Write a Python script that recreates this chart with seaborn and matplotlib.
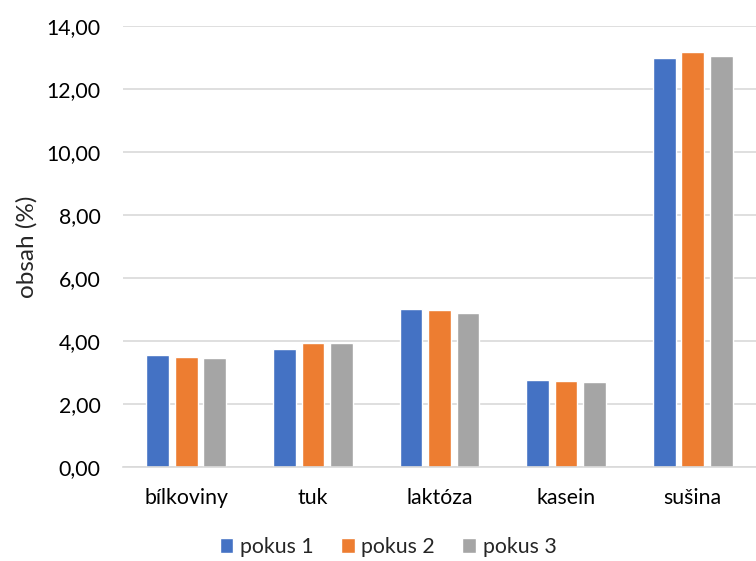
import matplotlib
matplotlib.use("Agg")
import matplotlib.pyplot as plt
import seaborn as sns
import pandas as pd
from matplotlib.ticker import FuncFormatter

categories = ["bílkoviny", "tuk", "laktóza", "kasein", "sušina"]
series = ["pokus 1", "pokus 2", "pokus 3"]
pokus1 = [3.57, 3.76, 5.01, 2.76, 12.97]
pokus2 = [3.49, 3.94, 4.97, 2.73, 13.17]
pokus3 = [3.45, 3.94, 4.90, 2.69, 13.06]
colors = ["#4472C4", "#ED7D31", "#A5A5A5"]

rows = []
for name, vals in zip(series, [pokus1, pokus2, pokus3]):
    for cat, v in zip(categories, vals):
        rows.append({"kategorie": cat, "pokus": name, "obsah": v})
df = pd.DataFrame(rows)

sns.set_theme(style="white")
plt.rcParams["font.family"] = ["Lato", "DejaVu Sans"]

fig = plt.figure(figsize=(7.56, 5.61), dpi=100)
ax = fig.add_axes([123 / 756, 1 - 467 / 561, 633 / 756, 441 / 561])

sns.barplot(data=df, x="kategorie", y="obsah", hue="pokus", order=categories,
            hue_order=series, palette=colors, width=0.675, gap=0.2,
            saturation=1, ax=ax, legend=True)

ax.set_ylim(0, 14)
ax.set_yticks(range(0, 15, 2))
ax.yaxis.set_major_formatter(FuncFormatter(lambda v, p: f"{v:.2f}".replace(".", ",")))
ax.grid(axis="y", color="#D9D9D9", linewidth=1.2)
ax.set_axisbelow(True)
for s in ["left", "right", "top"]:
    ax.spines[s].set_visible(False)
ax.spines["bottom"].set_color("#D9D9D9")
ax.spines["bottom"].set_linewidth(1.2)
ax.tick_params(axis="both", length=0, labelsize=15.3, colors="#000000")
ax.tick_params(axis="x", pad=15)
ax.tick_params(axis="y", pad=16)
ax.set_xlabel("")
ax.set_ylabel("obsah (%)", fontsize=17.5, labelpad=6.5)

handles, labels = ax.get_legend_handles_labels()
ax.get_legend().remove()
fig.legend(handles, labels, loc="center", bbox_to_anchor=(388 / 756, 1 - 547 / 561),
           ncol=3, frameon=False, fontsize=15.3, handlelength=0.65, handleheight=0.65,
           handletextpad=0.3, columnspacing=1.3)

fig.savefig("out.png", dpi=100)
